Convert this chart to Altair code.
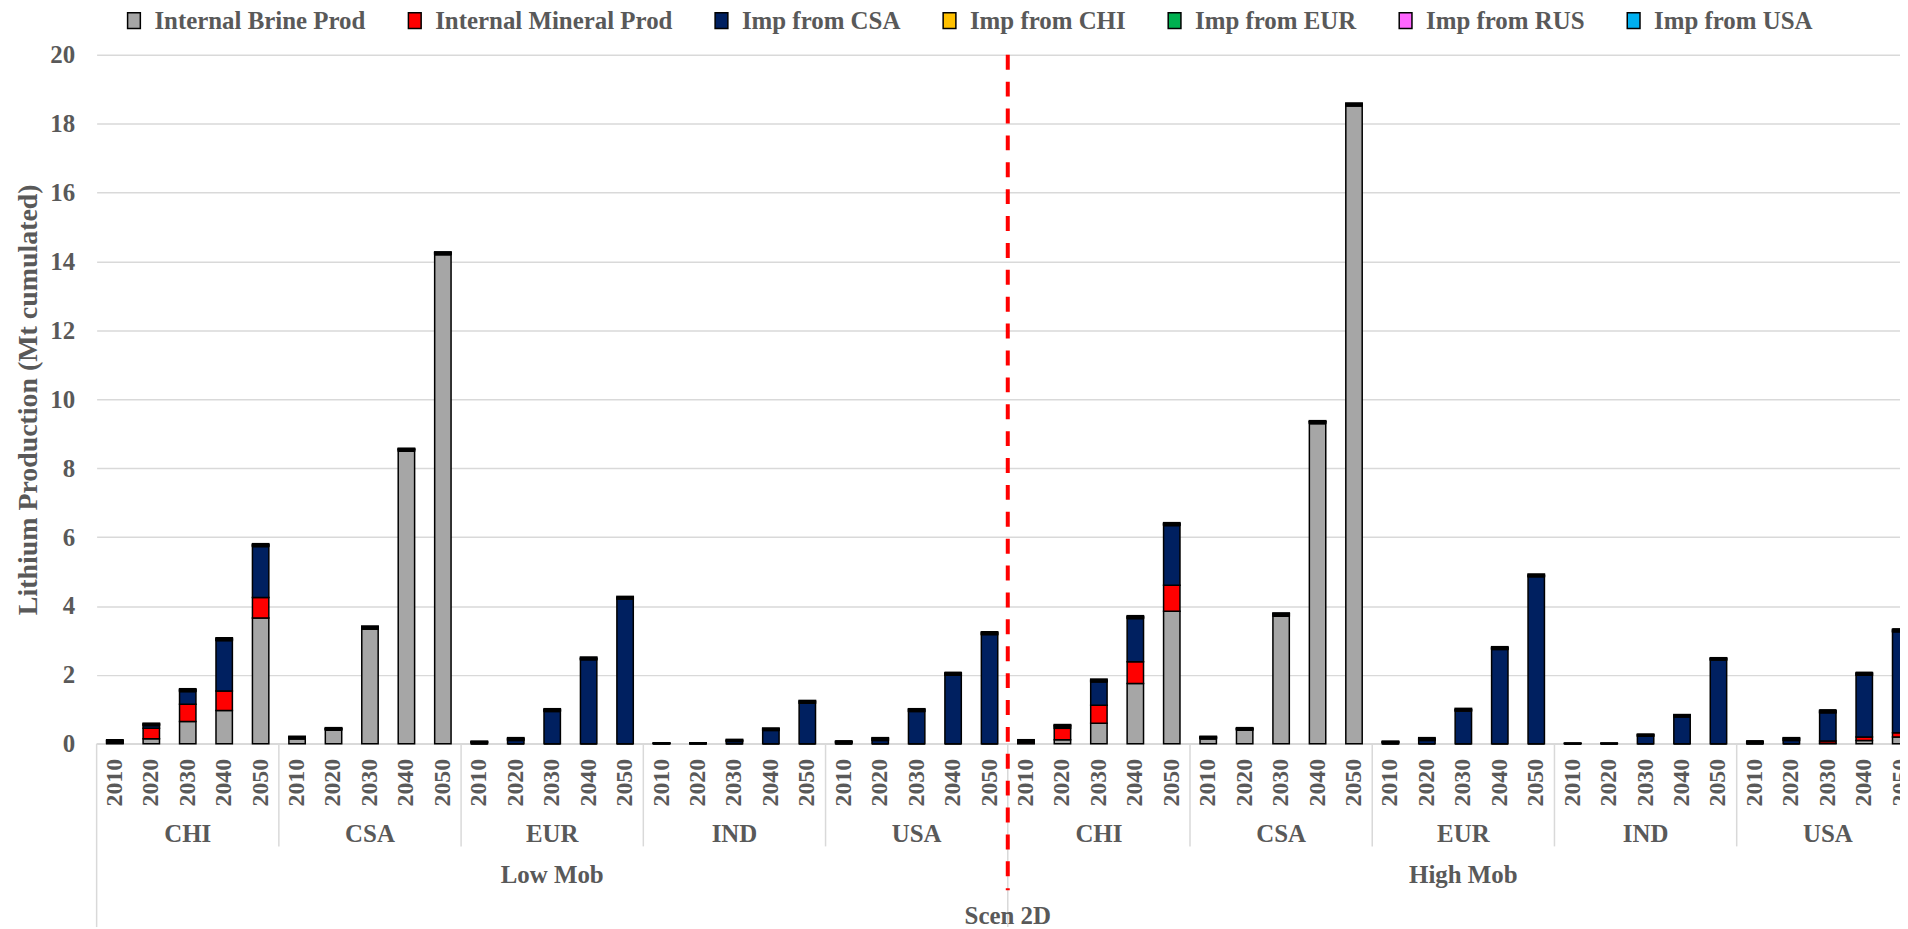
import altair as alt
import pandas as pd

# ---------------- data ----------------
scenarios = ["Low Mob", "High Mob"]
regions = ["CHI", "CSA", "EUR", "IND", "USA"]
years = ["2010", "2020", "2030", "2040", "2050"]
series = ["Internal Brine Prod", "Internal Mineral Prod", "Imp from CSA",
          "Imp from CHI", "Imp from EUR", "Imp from RUS", "Imp from USA"]
colors = ["#A6A6A6", "#FF0000", "#002060", "#FFC000", "#00B050", "#FF66FF", "#00B0F0"]
Z = [0, 0, 0, 0, 0]

# Low Mob (Mt cumulated), per region, years 2010..2050
brine_low = {"CHI": [0.02, 0.15, 0.65, 0.97, 3.65], "CSA": [0.15, 0.40, 3.33, 8.50, 14.20],
             "EUR": Z, "IND": Z, "USA": Z}
mineral_low = {"CHI": [0.02, 0.30, 0.50, 0.56, 0.60], "CSA": Z, "EUR": Z, "IND": Z, "USA": Z}
csa_low = {"CHI": [0.03, 0.08, 0.37, 1.47, 1.48], "CSA": Z,
           "EUR": [0.03, 0.10, 0.94, 2.44, 4.20], "IND": [0.005, 0.005, 0.07, 0.39, 1.18],
           "USA": [0.03, 0.10, 0.94, 1.99, 3.17]}
chi_low = {"CHI": Z, "CSA": [0.02, 0.02, 0.03, 0.03, 0.03], "EUR": [0.02, 0.03, 0.03, 0.03, 0.03],
           "IND": [0.01, 0.01, 0.02, 0.03, 0.03], "USA": [0.02, 0.03, 0.03, 0.03, 0.03]}
eur_low = {"CHI": [0.02, 0.03, 0.03, 0.03, 0.03], "CSA": [0.02, 0.02, 0.03, 0.02, 0.02], "EUR": Z,
           "IND": [0.01, 0.01, 0.02, 0.02, 0.03], "USA": [0.02, 0.03, 0.03, 0.03, 0.03]}
rus_low = {"CHI": [0.01, 0.02, 0.02, 0.02, 0.02], "CSA": [0.01, 0.01, 0.01, 0.01, 0.01],
           "EUR": [0.01, 0.02, 0.02, 0.02, 0.02], "IND": Z, "USA": [0.01, 0.02, 0.02, 0.02, 0.02]}
usa_low = {"CHI": [0.02, 0.02, 0.03, 0.03, 0.03], "CSA": [0.02, 0.02, 0.02, 0.02, 0.02],
           "EUR": [0.02, 0.03, 0.03, 0.03, 0.03], "IND": [0.005, 0.005, 0.02, 0.02, 0.02], "USA": Z}

# High Mob
brine_high = {"CHI": [0.02, 0.12, 0.60, 1.75, 3.85], "CSA": [0.15, 0.40, 3.71, 9.30, 18.52],
              "EUR": Z, "IND": Z, "USA": [0, 0, 0.02, 0.10, 0.20]}
mineral_high = {"CHI": [0.02, 0.33, 0.52, 0.63, 0.75], "CSA": Z, "EUR": Z, "IND": Z,
                "USA": [0, 0, 0.06, 0.10, 0.12]}
csa_high = {"CHI": [0.03, 0.04, 0.68, 1.26, 1.74], "CSA": Z,
            "EUR": [0.03, 0.10, 0.95, 2.74, 4.85], "IND": [0, 0, 0.22, 0.78, 2.43],
            "USA": [0.03, 0.10, 0.82, 1.79, 2.93]}
chi_high = {"CHI": Z, "CSA": [0.02, 0.02, 0.03, 0.03, 0.03], "EUR": [0.02, 0.03, 0.03, 0.03, 0.03],
            "IND": [0.01, 0.01, 0.03, 0.03, 0.03], "USA": [0.02, 0.03, 0.03, 0.03, 0.03]}
eur_high = {"CHI": [0.02, 0.03, 0.03, 0.03, 0.03], "CSA": [0.02, 0.02, 0.03, 0.02, 0.02], "EUR": Z,
            "IND": [0.005, 0.005, 0.02, 0.02, 0.02], "USA": [0.02, 0.03, 0.03, 0.03, 0.03]}
rus_high = {"CHI": [0.01, 0.02, 0.02, 0.02, 0.02], "CSA": [0.01, 0.01, 0.01, 0.01, 0.01],
            "EUR": [0.01, 0.02, 0.02, 0.02, 0.02], "IND": Z, "USA": [0.01, 0.02, 0.02, 0.02, 0.02]}
usa_high = {"CHI": [0.02, 0.02, 0.03, 0.03, 0.03], "CSA": [0.02, 0.02, 0.02, 0.02, 0.02],
            "EUR": [0.02, 0.03, 0.03, 0.03, 0.03], "IND": [0.005, 0.005, 0.01, 0.02, 0.02], "USA": Z}

tables = {
    "Low Mob": [brine_low, mineral_low, csa_low, chi_low, eur_low, rus_low, usa_low],
    "High Mob": [brine_high, mineral_high, csa_high, chi_high, eur_high, rus_high, usa_high],
}

# ---------------- build tables ----------------
keys = []
rows = []
for s in scenarios:
    for r in regions:
        for yi, y in enumerate(years):
            k = f"{s}|{r}|{y}"
            keys.append(k)
            for si, name in enumerate(series):
                rows.append({"key": k, "series": name, "ord": si,
                             "value": tables[s][si][r][yi]})
df = pd.DataFrame(rows)

year_df = pd.DataFrame({"key": keys, "year": [k.split("|")[2] for k in keys]})
region_df = pd.DataFrame({"key": [f"{s}|{r}|2030" for s in scenarios for r in regions],
                          "label": [r for s in scenarios for r in regions]})
sep_short = pd.DataFrame({"key": [f"{s}|{r}|2010" for s in scenarios for r in regions
                                  if r != "CHI"]})
sep_long = pd.DataFrame({"key": [f"{s}|CHI|2010" for s in scenarios]})
mob_df = pd.DataFrame({"key": [f"{s}|EUR|2030" for s in scenarios], "label": scenarios})
scen_df = pd.DataFrame({"key": ["High Mob|CHI|2010"], "label": ["Scen 2D"]})

# ---------------- layout constants ----------------
W = 1811
H = 692
STEP = 36.6
FULL = STEP * len(keys)
HALF = STEP / 2
FONT = "Liberation Serif"
GREY = "#595959"
LINE = "#D9D9D9"

xscale = alt.Scale(domain=keys, range=[0, FULL], paddingInner=0.55, paddingOuter=0.275)
X = alt.X("key:N", scale=xscale, axis=None)

bars = alt.Chart(df).mark_bar(stroke="black", strokeWidth=1.5).encode(
    x=X,
    y=alt.Y("value:Q", stack="zero",
            scale=alt.Scale(domain=[0, 20], nice=False),
            axis=alt.Axis(values=list(range(0, 21, 2)),
                          title="Lithium Production (Mt cumulated)",
                          titleFont=FONT, titleFontSize=28, titleFontWeight="bold",
                          titleColor=GREY, titlePadding=7,
                          labelFont=FONT, labelFontSize=25, labelFontWeight="bold",
                          labelColor=GREY, labelPadding=22,
                          domain=False, ticks=False,
                          gridColor=LINE, gridWidth=1.5)),
    color=alt.Color("series:N", scale=alt.Scale(domain=series, range=colors),
                    legend=alt.Legend(orient="none", legendX=25, legendY=-47,
                                      direction="horizontal", columns=7, title=None,
                                      symbolType="M-0.8,-1H0.8V1H-0.8Z", symbolSize=256,
                                      symbolStrokeColor="black", symbolStrokeWidth=1.5,
                                      labelFont=FONT, labelFontSize=25, labelFontWeight="bold",
                                      labelColor=GREY, labelOffset=8, labelLimit=0,
                                      columnPadding=36, padding=0)),
    order=alt.Order("ord:Q", sort="ascending"),
)

baseline = alt.Chart(pd.DataFrame({"v": [0]})).mark_rule(color=LINE, strokeWidth=1.5).encode(
    x=alt.value(0), x2=alt.value(W), y=alt.value(H))

years_txt = alt.Chart(year_df).mark_text(
    font=FONT, fontSize=24, fontWeight="bold", color=GREY,
    angle=270, align="right", baseline="middle").encode(
    x=X, y=alt.value(H + 15), text="year:N")

region_txt = alt.Chart(region_df).mark_text(
    font=FONT, fontSize=25, fontWeight="bold", color=GREY,
    align="center", baseline="middle").encode(
    x=X, y=alt.value(H + 91), text="label:N")

short_rules = alt.Chart(sep_short).mark_rule(color=LINE, strokeWidth=1.5, xOffset=-HALF).encode(
    x=X, y=alt.value(H), y2=alt.value(H + 103))

long_rules = alt.Chart(sep_long).mark_rule(color=LINE, strokeWidth=1.5, xOffset=-HALF).encode(
    x=X, y=alt.value(H), y2=alt.value(H + 184))

mob_txt = alt.Chart(mob_df).mark_text(
    font=FONT, fontSize=25, fontWeight="bold", color=GREY,
    align="center", baseline="middle").encode(
    x=X, y=alt.value(H + 132), text="label:N")

scen_txt = alt.Chart(scen_df).mark_text(
    font=FONT, fontSize=25, fontWeight="bold", color=GREY,
    align="center", baseline="middle", dx=-HALF).encode(
    x=X, y=alt.value(H + 173), text="label:N")

red_line = alt.Chart(scen_df).mark_rule(
    color="#FF0000", strokeWidth=4, strokeDash=[15, 12], xOffset=-HALF).encode(
    x=X, y=alt.value(0), y2=alt.value(H + 147))

chart = alt.layer(
    baseline, short_rules, long_rules, bars, years_txt, region_txt, mob_txt, scen_txt, red_line
).properties(
    width=W, height=H,
    autosize=alt.AutoSizeParams(type="none"),
    padding={"left": 89, "top": 45, "right": 0, "bottom": 184},
).configure_view(strokeWidth=0)

chart.save("out.html", embed_options={"renderer": "svg", "actions": False})
